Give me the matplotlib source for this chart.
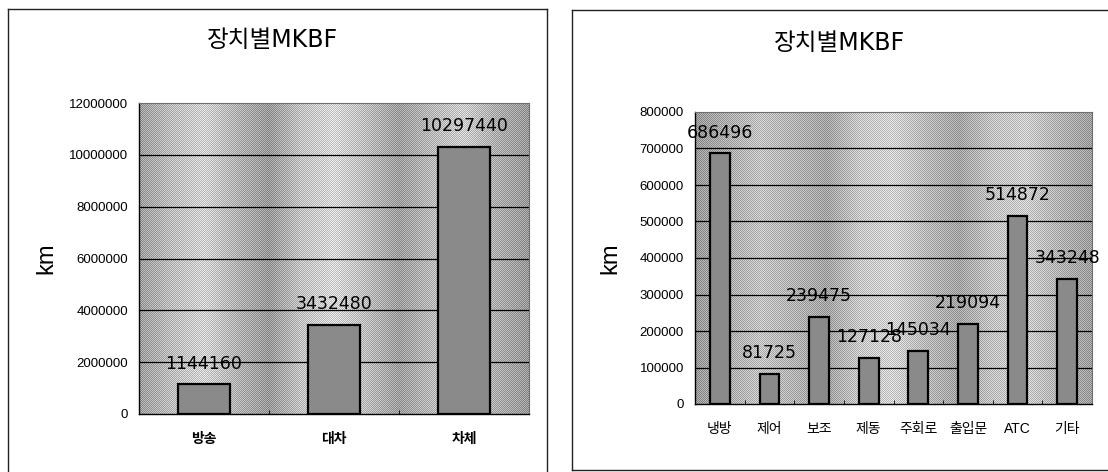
import numpy as np
import matplotlib
matplotlib.use("Agg")
import matplotlib.pyplot as plt
from matplotlib.lines import Line2D

plt.rcParams['font.family'] = ['Liberation Sans', 'Noto Sans CJK KR', 'DejaVu Sans']

title_text = "장치별MKBF"
y_label = "km"

left_categories = ["방송", "대차", "차체"]
left_values = [1144160, 3432480, 10297440]
left_ticks = [0, 2000000, 4000000, 6000000, 8000000, 10000000, 12000000]

right_categories = ["냉방", "제어", "보조", "제동", "주회로", "출입문", "ATC", "기타"]
right_values = [686496, 81725, 239475, 127128, 145034, 219094, 514872, 343248]
right_ticks = [0, 100000, 200000, 300000, 400000, 500000, 600000, 700000, 800000]

W, H = 1108, 472
fig = plt.figure(figsize=(W / 100, H / 100), dpi=100)
fig.patch.set_facecolor("white")

def px_axes(x0, y0, x1, y1):
    return fig.add_axes([x0 / W, 1 - y1 / H, (x1 - x0) / W, (y1 - y0) / H])

def texture(ax, wpx, hpx, bands):
    xs = np.linspace(0, len(bands) - 1, wpx)
    base = np.interp(xs, np.arange(len(bands)), bands)
    img = np.tile(base, (hpx, 1))
    yy, xx = np.mgrid[0:hpx, 0:wpx]
    checker = np.where((xx + yy) % 2 == 0, 0.11, -0.11)
    img = np.clip(img + checker, 0, 1)
    ax.imshow(img, cmap="gray", vmin=0, vmax=1, extent=[0, 1, 0, 1],
              transform=ax.transAxes, aspect="auto", interpolation="nearest", zorder=0)

def draw_panel(ax, cats, vals, ticks, ymax, wpx, hpx, bands, tick_bold):
    texture(ax, wpx, hpx, bands)
    x = np.arange(len(cats))
    ax.set_xlim(-0.5, len(cats) - 0.5)
    ax.set_ylim(0, ymax)
    for t in ticks[1:-1]:
        ax.axhline(t, color="black", lw=0.9, zorder=1)
    ax.bar(x, vals, width=0.4, color="#8a8a8a", edgecolor="black", linewidth=1.6, zorder=2)
    for xi, v in zip(x, vals):
        ax.annotate(str(v), (xi, v), xytext=(0, 15), textcoords="offset points",
                    ha="center", va="center", fontsize=12.5, color="black", zorder=3,
                    family=['DejaVu Sans'])
    ax.set_yticks(ticks)
    ax.set_yticklabels([str(t) for t in ticks], fontsize=9.5)
    ax.set_xticks(x)
    ax.set_xticklabels(cats, fontsize=10, fontweight="bold" if tick_bold else "normal")
    ax.set_xticks(np.arange(len(cats) - 1) + 0.5, minor=True)
    ax.tick_params(axis="y", length=0, pad=8)
    ax.tick_params(axis="x", which="major", length=0, pad=13)
    ax.tick_params(axis="x", which="minor", length=3, direction="in", color="black")
    for s in ["top", "right"]:
        ax.spines[s].set_color("#6e6e6e")
        ax.spines[s].set_linewidth(0.8)
    for s in ["left", "bottom"]:
        ax.spines[s].set_color("black")
        ax.spines[s].set_linewidth(1.0)

axL = px_axes(139, 103, 529, 414)
draw_panel(axL, left_categories, left_values, left_ticks, 12000000, 390, 311,
           [0.62, 0.74, 0.82, 0.70, 0.60, 0.76, 0.84, 0.74, 0.62, 0.72, 0.80, 0.68, 0.60],
           True)

axR = px_axes(695, 112, 1092, 404)
draw_panel(axR, right_categories, right_values, right_ticks, 800000, 397, 292,
           [0.60, 0.68, 0.76, 0.70, 0.64, 0.78, 0.82, 0.72, 0.64, 0.76, 0.80, 0.70, 0.62],
           False)

title_fam = ['DejaVu Sans', 'Noto Sans CJK KR']
fig.text(272 / W, 1 - 40 / H, title_text, ha="center", va="center", fontsize=17,
         family=title_fam)
fig.text(839 / W, 1 - 43 / H, title_text, ha="center", va="center", fontsize=17,
         family=title_fam)
fig.text(46 / W, 1 - 258 / H, y_label, ha="center", va="center", fontsize=17, rotation=90)
fig.text(610 / W, 1 - 258 / H, y_label, ha="center", va="center", fontsize=17, rotation=90)

def fline(xs, ys, lw=1.0, color="#222222"):
    fig.add_artist(Line2D([x / W for x in xs], [1 - y / H for y in ys], lw=lw, color=color,
                          transform=fig.transFigure))

# left panel frame
fline([8, 8], [9, 472])
fline([8, 547], [9, 9])
fline([547, 547], [9, 472])
# right panel frame
fline([572, 572], [10, 470])
fline([572, 1108], [10, 10])
fline([572, 1108], [470, 470])

fig.savefig("out.png", dpi=100)
